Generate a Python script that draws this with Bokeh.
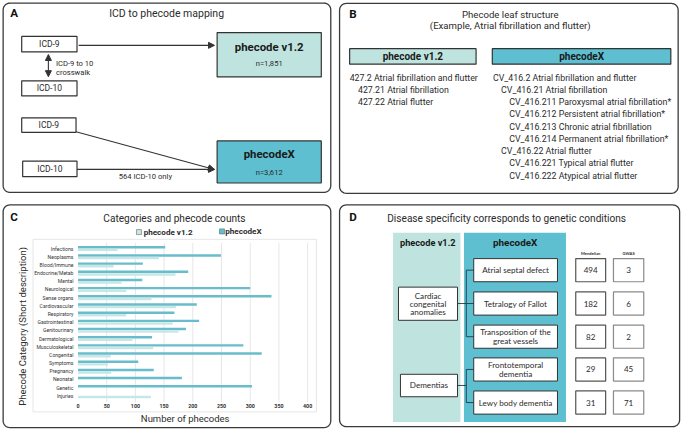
from math import pi, cos, sin
from bokeh.plotting import figure
from bokeh.models import Range1d, Arrow, NormalHead
from bokeh.core.properties import value
from bokeh.embed import file_html
from bokeh.resources import INLINE

# ---------------- data ----------------
categories = ["Infections", "Neoplasms", "Blood/Immune", "Endocrine/Metab", "Mental",
              "Neurological", "Sense organs", "Cardiovascular", "Respiratory",
              "Gastrointestinal", "Genitourinary", "Dermatological", "Musculoskeletal",
              "Congenital", "Symptoms", "Pregnancy", "Neonatal", "Genetic", "Injuries"]
phecodeX_counts = [152, 249, 113, 192, 112, 300, 337, 207, 168, 211, 188, 129, 288,
                   320, 105, 132, 181, 303, 0]
phecode12_counts = [69, 141, 62, 170, 76, 84, 128, 171, 84, 165, 175, 95, 131,
                    57, 52, 58, 0, 0, 127]
count_ticks = [0, 50, 100, 150, 200, 250, 300, 350, 400]

v12_leaves = ["427.2 Atrial fibrillation and flutter", "427.21 Atrial fibrillation",
              "427.22 Atrial flutter"]
v12_levels = [0, 1, 1]
x_leaves = ["CV_416.2 Atrial fibrillation and flutter", "CV_416.21 Atrial fibrillation",
            "CV_416.211 Paroxysmal atrial fibrillation*", "CV_416.212 Persistent atrial fibrillation*",
            "CV_416.213 Chronic atrial fibrillation", "CV_416.214 Permanent atrial fibrillation*",
            "CV_416.22 Atrial flutter", "CV_416.221 Typical atrial flutter",
            "CV_416.222 Atypical atrial flutter"]
x_levels = [0, 1, 2, 2, 2, 2, 1, 2, 2]

d_children = [["Atrial septal defect"], ["Tetralogy of Fallot"],
              ["Transposition of the", "great vessels"], ["Frontotemporal", "dementia"],
              ["Lewy body dementia"]]
d_parents = [["Cardiac", "congenital", "anomalies"], ["Dementias"]]
mendelian = [494, 182, 82, 29, 31]
gwas = [3, 6, 2, 45, 71]

n_v12 = "n=1,851"
n_x = "n=3,612"

# ---------------- colours / fonts ----------------
LIGHT = "#bfe4df"
DARK = "#5dbfd0"
BAR_DARK = "#68bccb"
BAR_LIGHT = "#c6e7e7"
INK = "#2b2b2b"
F = value("Roboto")
FD = value("Lato")
SF = 0.97


def fs(px):
    return "%.1fpx" % (px * SF)


p = figure(width=684, height=430, x_range=Range1d(0, 700), y_range=Range1d(446, 0),
           output_backend="svg", toolbar_location=None, min_border=0)
p.axis.visible = False
p.grid.visible = False
p.outline_line_color = None
p.background_fill_color = "white"
p.border_fill_color = "white"

# extra scales for panel C bar chart
p.extra_x_ranges = {"cnt": Range1d(-134.98, 1056.5)}
p.extra_y_ranges = {"cats": Range1d(22.25, -30.34)}


def rrect(x0, y0, x1, y1, r):
    xs, ys = [], []
    corners = [(x1 - r, y0 + r, -90, 0), (x1 - r, y1 - r, 0, 90),
               (x0 + r, y1 - r, 90, 180), (x0 + r, y0 + r, 180, 270)]
    for cx, cy, a0, a1 in corners:
        for k in range(9):
            a = (a0 + (a1 - a0) * k / 8) * pi / 180
            xs.append(cx + r * cos(a))
            ys.append(cy + r * sin(a))
    return xs, ys


def panel(x0, y0, x1, y1):
    xs, ys = rrect(x0, y0, x1, y1, 7)
    p.patch(xs, ys, fill_color=None, line_color="#3a3a3a", line_width=1.3)


def box(x0, y0, x1, y1, fill="white", line="#333333", lw=1.2):
    p.quad(left=[x0], right=[x1], top=[y0], bottom=[y1], fill_color=fill,
           line_color=line, line_width=lw)


def txt(x, y, t, size, bold=False, align="center", color=INK, font=F, angle=0):
    p.text(x=[x], y=[y], text=[t], text_font=font, text_font_size=fs(size),
           text_font_style="bold" if bold else "normal", text_align=align,
           text_baseline="middle", text_color=color, angle=angle)


def arrow(x0, y0, x1, y1, both=False):
    head = dict(size=6, fill_color="#333333", line_color="#333333", line_width=1)
    p.add_layout(Arrow(x_start=x0, y_start=y0, x_end=x1, y_end=y1,
                       end=NormalHead(**head),
                       start=NormalHead(**head) if both else None,
                       line_color="#333333", line_width=1.1))


# ---------------- panels ----------------
panel(2.7, 2.7, 338, 199)
panel(347, 3, 693.5, 200)
panel(2.7, 212, 338, 443)
panel(347, 212, 695, 442)

# ---------- Panel A ----------
txt(10, 13, "A", 12, bold=True, align="left", color="#111111")
txt(170, 14, "ICD to phecode mapping", 10.8)
box(21.7, 37.3, 78.3, 53.3)
txt(50, 45.3, "ICD-9", 8.8)
box(21.7, 83.3, 78.3, 99)
txt(50, 91.2, "ICD-10", 8.8)
arrow(49, 56, 49, 79, both=True)
txt(56.7, 65, "ICD-9 to 10", 7.8, align="left")
txt(56.7, 75, "crosswalk", 7.8, align="left")
arrow(80, 46.5, 219, 46.5)
box(221.7, 33.3, 328.3, 79.3, fill=LIGHT)
txt(275, 48.5, "phecode v1.2", 11.8, bold=True, color="#1a1a1a")
txt(275, 65.7, n_v12, 7.8)

box(21.7, 121.7, 77.3, 136.7)
txt(49.5, 129, "ICD-9", 8.8)
box(22.7, 166.7, 78.3, 182.7)
txt(50.5, 174.5, "ICD-10", 8.8)
arrow(77.3, 136.2, 219, 175.2)
arrow(78.3, 175.2, 219, 175.2)
txt(148.3, 183, "564 ICD-10 only", 7.8)
box(221.7, 145.7, 328.3, 189.3, fill=DARK)
txt(275, 159.5, "phecodeX", 11.8, bold=True, color="#1a1a1a")
txt(275, 178.3, n_x, 7.8)

# ---------- Panel B ----------
txt(357, 14, "B", 12, bold=True, align="left", color="#111111")
txt(521.7, 14.2, "Phecode leaf structure", 9.9)
txt(521.7, 26.2, "(Example, Atrial fibrillation and flutter)", 9.9)
box(357.3, 50, 486.7, 66, fill=LIGHT)
txt(422, 58, "phecode v1.2", 10.3, bold=True, color="#1a1a1a")
box(503.3, 50, 686, 66, fill=DARK)
txt(594.7, 58, "phecodeX", 10.3, bold=True, color="#1a1a1a")
for i, (t, lv) in enumerate(zip(v12_leaves, v12_levels)):
    txt(357.3 + 8.5 * lv, 80 + 12.65 * i, t, 9.1, align="left")
for i, (t, lv) in enumerate(zip(x_leaves, x_levels)):
    txt(504 + 8.3 * lv, 80 + 12.7 * i, t, 9.1, align="left")

# ---------- Panel C ----------
txt(10, 225, "C", 12, bold=True, align="left", color="#111111")
txt(178, 226, "Categories and phecode counts", 10.4)
# legend
p.scatter(x=[141.7], y=[240.2], marker="square", size=5, fill_color=BAR_LIGHT,
          line_color="#888888", line_width=0.8)
txt(146.5, 240.2, "phecode v1.2", 8.4, bold=True, align="left")
p.scatter(x=[226.7], y=[239.5], marker="square", size=5, fill_color=BAR_DARK,
          line_color="#5a8f99", line_width=0.8)
txt(230, 239.5, "phecodeX", 8.4, bold=True, align="left")
# plot area
p.quad(left=[33.3], right=[323.3], top=[247.7], bottom=[426.7], fill_color=None,
       line_color="#e6e6e6", line_width=1)
p.segment(x0=count_ticks[1:], x1=count_ticks[1:], y0=-0.7, y1=18.8,
          line_color="#e3e3e3", line_width=0.9, x_range_name="cnt", y_range_name="cats")
idx = list(range(len(categories)))
p.hbar(y=[i - 0.16 for i in idx], left=0, right=phecodeX_counts, height=0.3,
       fill_color=BAR_DARK, line_color=None, x_range_name="cnt", y_range_name="cats")
p.hbar(y=[i + 0.16 for i in idx], left=0, right=phecode12_counts, height=0.3,
       fill_color=BAR_LIGHT, line_color=None, x_range_name="cnt", y_range_name="cats")
p.text(x=-8, y=idx, text=categories, text_font=F, text_font_size=fs(5.3),
       text_align="right", text_baseline="middle", text_color="#333333",
       x_range_name="cnt", y_range_name="cats")
p.text(x=count_ticks, y=19.3, text=[str(t) for t in count_ticks], text_font=F,
       text_font_size=fs(5.5), text_font_style="bold", text_align="center",
       text_baseline="middle", text_color="#333333", x_range_name="cnt", y_range_name="cats")
txt(189, 433.5, "Number of phecodes", 9.8)
txt(22.7, 338, "Phecode Category (Short description)", 9.8, angle=pi / 2)

# ---------- Panel D ----------
txt(357, 225, "D", 12, bold=True, align="left", color="#111111")
txt(518, 226, "Disease specificity corresponds to genetic conditions", 10.4)
p.quad(left=[401.7], right=[470.7], top=[241], bottom=[437.3], fill_color=LIGHT, line_color=None)
p.quad(left=[474.3], right=[578.7], top=[241], bottom=[437.3], fill_color=DARK, line_color=None)
txt(437.3, 251.3, "phecode v1.2", 9.5, bold=True, color="#1a1a1a")
txt(526.7, 251.3, "phecodeX", 10.2, bold=True, color="#1a1a1a")

row_top = [267.7, 302.3, 336.7, 370.7, 405]
row_h = 24
for i, lines in enumerate(d_children):
    y0 = row_top[i]
    box(484.3, y0, 570, y0 + row_h, lw=1.0)
    cy = y0 + row_h / 2
    n = len(lines)
    for k, t in enumerate(lines):
        txt(527.2, cy + (k - (n - 1) / 2) * 9.2, t, 8.3, font=FD)
    box(588.7, y0, 619.3, y0 + row_h, line="#555555", lw=1.2)
    txt(604, cy, str(mendelian[i]), 8.3, font=FD)
    box(627.3, y0, 658.3, y0 + row_h, line="#8a8a8a", lw=1.2)
    txt(642.8, cy, str(gwas[i]), 8.3, font=FD)
txt(604, 262.5, "Mendelian", 4.2, bold=True, font=FD)
txt(642.8, 262.5, "GWAS", 4.2, bold=True, font=FD)

# parent boxes
box(407.3, 297.3, 467.7, 331.7, lw=1.0)
for k, t in enumerate(d_parents[0]):
    txt(437.5, 306 + 8.5 * k, t, 8.3, font=FD)
box(409.3, 387.7, 467.7, 411, lw=1.0)
txt(438.5, 399.3, d_parents[1][0], 8.3, font=FD)

# connectors
cys = [t + row_h / 2 for t in row_top]
LC = "#1f3b45"
p.segment(x0=[467.7, 476.7, 476.7, 476.7, 476.7], y0=[314.3, cys[0], cys[0], cys[1], cys[2]],
          x1=[476.7, 476.7, 484.3, 484.3, 484.3], y1=[314.3, cys[2], cys[0], cys[1], cys[2]],
          line_color=LC, line_width=0.9)
p.segment(x0=[467.7, 476.7, 476.7, 476.7], y0=[399.3, cys[3], cys[3], cys[4]],
          x1=[476.7, 476.7, 484.3, 484.3], y1=[399.3, cys[4], cys[3], cys[4]],
          line_color=LC, line_width=0.9)

open("out.html", "w").write(file_html(p, INLINE))
